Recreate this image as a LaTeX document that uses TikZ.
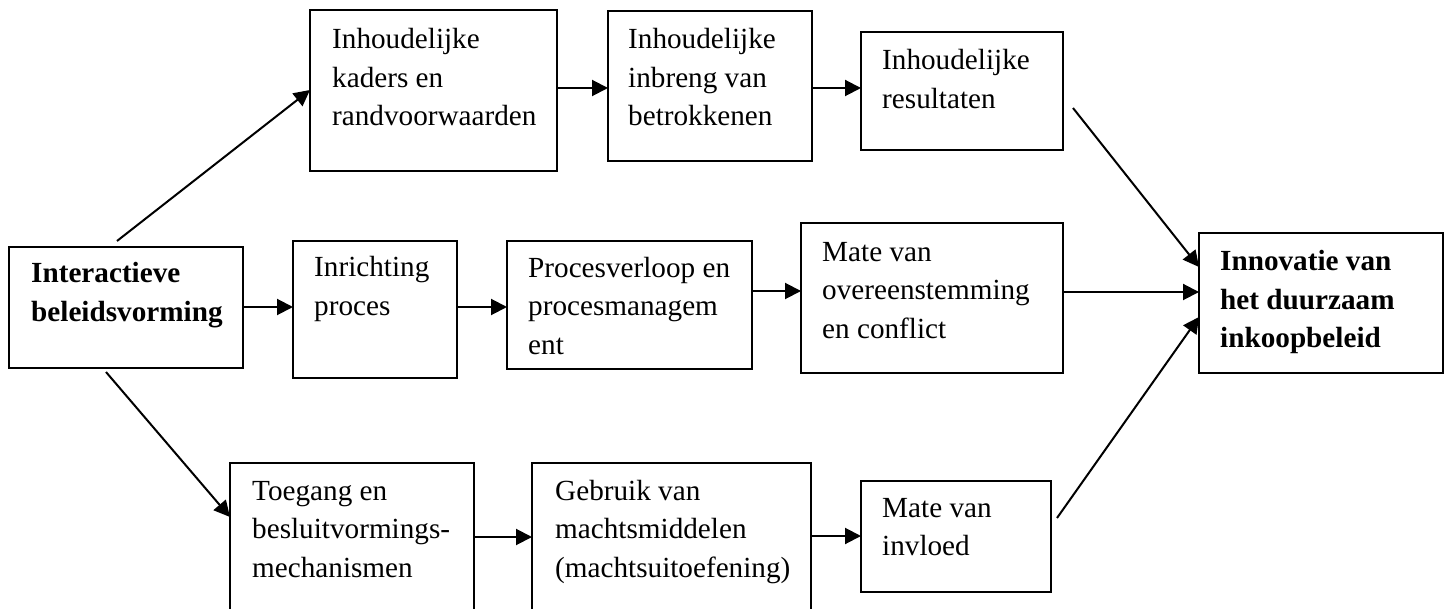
\documentclass[tikz,border=0pt]{standalone}
\usepackage{fontspec}
\setmainfont{Liberation Serif}
\usetikzlibrary{arrows.meta,calc}
\tikzset{
  box/.style={draw, line width=1.9pt, inner sep=0pt, outer sep=0pt, anchor=north west},
  txt/.style={anchor=base west, align=left, inner sep=0pt, font=\fontsize{29.2}{38.5}\selectfont},
  btxt/.style={txt, font=\fontsize{29.2}{38.5}\selectfont\bfseries},
  arr/.style={line width=2pt, -{Triangle[length=16pt,width=16pt]}}
}
\begin{document}
\begin{tikzpicture}[x=1pt,y=-1pt]
\useasboundingbox (0,0) rectangle (1450,609);
\clip (0,0) rectangle (1450,609);
% boxes
\node[box, minimum width=247pt, minimum height=161pt] (b1) at (310,10) {};
\node[box, minimum width=204pt, minimum height=150pt] (b2) at (608,11) {};
\node[box, minimum width=202pt, minimum height=118pt] (b3) at (861,32) {};
\node[box, minimum width=234pt, minimum height=121pt] (lb) at (9,247) {};
\node[box, minimum width=164pt, minimum height=137pt] (b4) at (293,241) {};
\node[box, minimum width=245pt, minimum height=128pt] (b5) at (507,241) {};
\node[box, minimum width=262pt, minimum height=150pt] (b6) at (801,223) {};
\node[box, minimum width=244pt, minimum height=140pt] (rb) at (1199,233) {};
\node[box, minimum width=244pt, minimum height=180pt] (b7) at (230,463) {};
\node[box, minimum width=279pt, minimum height=180pt] (b8) at (532,463) {};
\node[box, minimum width=190pt, minimum height=111pt] (b9) at (861,481) {};
% texts (anchored at the baseline of the last line)
\node[txt] (t1) at (332,126) {Inhoudelijke\\kaders en\\randvoorwaarden};
\node[txt] (t2) at (628,126) {Inhoudelijke\\inbreng van\\betrokkenen};
\node[txt] (t3) at (882,108.5) {Inhoudelijke\\resultaten};
\node[btxt] (tl) at (31,321.5) {Interactieve\\beleidsvorming};
\node[txt] (t4) at (314,315.5) {Inrichting\\proces};
\node[txt] (t5) at (528,354) {Procesverloop en\\procesmanagem\\ent};
\node[txt] (t6) at (822,338) {Mate van\\overeenstemming\\en conflict};
\node[btxt] (tr) at (1220,348) {Innovatie van\\het duurzaam\\inkoopbeleid};
\node[txt] (t7) at (252,577) {Toegang en\\besluitvormings-\\mechanismen};
\node[txt] (t8) at (555,577) {Gebruik van\\machtsmiddelen\\(machtsuitoefening)};
\node[txt] (t9) at (882,555.5) {Mate van\\invloed};
% free ends
\coordinate (s1) at (117,241);
\coordinate (s2) at (106,372);
\coordinate (s3) at (1073,108);
\coordinate (s9) at (1057,518);
% connectors
\draw[arr] (s1) -- (b1.west |- 0,90);
\draw[arr] (b1.east |- 0,88) -- (b2.west |- 0,88);
\draw[arr] (b2.east |- 0,88) -- (b3.west |- 0,88);
\draw[arr] (s3) -- (rb.west |- 0,267);
\draw[arr] (lb.east |- 0,307) -- (b4.west |- 0,307);
\draw[arr] (b4.east |- 0,307) -- (b5.west |- 0,307);
\draw[arr] (b5.east |- 0,291) -- (b6.west |- 0,291);
\draw[arr] (b6.east |- 0,292) -- (rb.west |- 0,292);
\draw[arr] (s2) -- (b7.west |- 0,517);
\draw[arr] (b7.east |- 0,537) -- (b8.west |- 0,537);
\draw[arr] (b8.east |- 0,536) -- (b9.west |- 0,536);
\draw[arr] (s9) -- (rb.west |- 0,317);
\end{tikzpicture}
\end{document}
